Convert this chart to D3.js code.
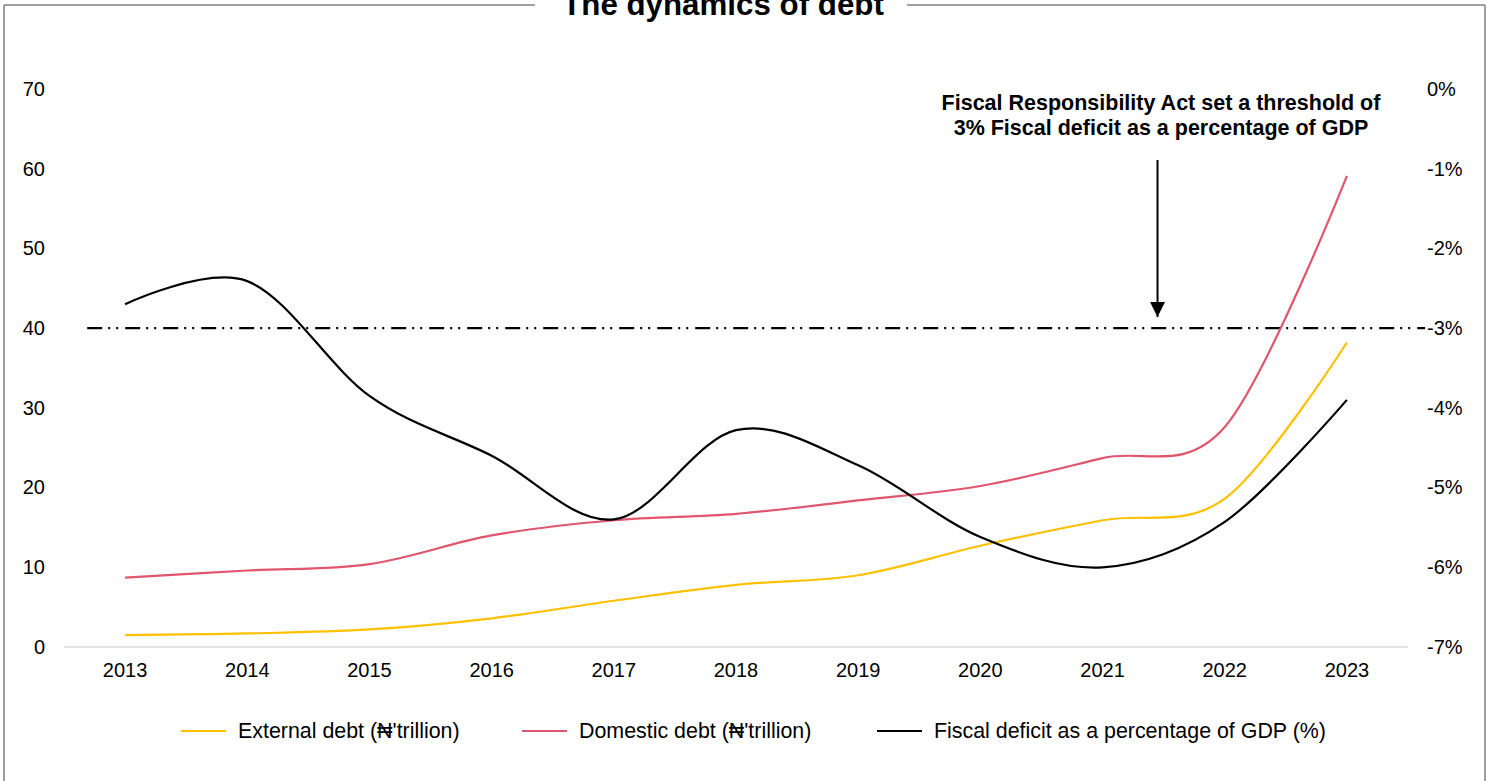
<!DOCTYPE html>
<html>
<head>
<meta charset="utf-8">
<script src="https://cdn.jsdelivr.net/npm/d3@7/dist/d3.min.js"></script>
<style>
  html, body { margin: 0; padding: 0; background: #fff; }
  svg { display: block; font-family: "Liberation Sans", Arial, sans-serif; }
</style>
</head>
<body>
<svg id="chart" width="1494" height="781"></svg>
<script>
const years = ["2013","2014","2015","2016","2017","2018","2019","2020","2021","2022","2023"];
const externalDebt = [1.5, 1.7, 2.2, 3.6, 5.8, 7.8, 9.0, 12.7, 15.9, 18.6, 38.2];
const domesticDebt = [8.7, 9.6, 10.4, 14.0, 15.9, 16.7, 18.4, 20.2, 23.7, 27.6, 59.1];
const fiscalDeficit = [-2.7, -2.41, -3.85, -4.6, -5.4, -4.28, -4.72, -5.62, -6.0, -5.43, -3.9];
const leftTicks = [0, 10, 20, 30, 40, 50, 60, 70];
const rightTicks = [0, -1, -2, -3, -4, -5, -6, -7];
const threshold = -3;
const thresholdSpan = [2012.69, 2023.64];
const arrowAt = { year: 2021.45, from: -0.89, to: -2.86 };
const annotationLines = ["Fiscal Responsibility Act set a threshold of", "3% Fiscal deficit as a percentage of GDP"];
const title = "The dynamics of debt";
const seriesNames = ["External debt (\u20A6'trillion)", "Domestic debt (\u20A6'trillion)", "Fiscal deficit as a percentage of GDP (%)"];
const colors = ["#FFC000", "#E0566E", "#000000"];

const svg = d3.select("#chart");
const W = 1494, H = 781;
const plot = { left: 64, right: 1408, top: 89, bottom: 647 };

const x = d3.scaleBand().domain(years).range([plot.left, plot.right]);
const xc = d => x(d) + x.bandwidth() / 2;
const xYear = d3.scaleLinear().domain([2013, 2023]).range([xc("2013"), xc("2023")]);
const yL = d3.scaleLinear().domain([0, 70]).range([plot.bottom, plot.top]);
const yR = d3.scaleLinear().domain([-7, 0]).range([plot.bottom, plot.top]);

// frame
const frameCol = "#7f7f7f";
svg.append("line").attr("x1", 4).attr("x2", 4).attr("y1", 5).attr("y2", H + 5).attr("stroke", frameCol).attr("stroke-width", 1.5);
svg.append("line").attr("x1", 1485).attr("x2", 1485).attr("y1", 5).attr("y2", H + 5).attr("stroke", frameCol).attr("stroke-width", 1.5);
svg.append("line").attr("x1", 4).attr("x2", 535).attr("y1", 5).attr("y2", 5).attr("stroke", frameCol).attr("stroke-width", 1.5);
svg.append("line").attr("x1", 907).attr("x2", 1485).attr("y1", 5).attr("y2", 5).attr("stroke", frameCol).attr("stroke-width", 1.5);

// title (cut at the top edge, as in the reference)
svg.append("text").attr("x", 723).attr("y", 15).attr("text-anchor", "middle")
  .attr("font-size", 31.3).attr("font-weight", "bold").attr("fill", "#000").text(title);

// baseline
svg.append("line").attr("x1", plot.left).attr("x2", plot.right).attr("y1", yL(0)).attr("y2", yL(0))
  .attr("stroke", "#d9d9d9").attr("stroke-width", 1.5);

// left axis
const axL = d3.axisLeft(yL).tickValues(leftTicks).tickSize(0).tickPadding(0);
const gL = svg.append("g").attr("transform", "translate(45,0)").call(axL);
gL.select(".domain").remove();
gL.selectAll("text").attr("font-size", 20).attr("fill", "#000").attr("font-family", "Liberation Sans, Arial, sans-serif");

// right axis
const axR = d3.axisRight(yR).tickValues(rightTicks).tickSize(0).tickPadding(0).tickFormat(d => d + "%");
const gR = svg.append("g").attr("transform", "translate(1427,0)").call(axR);
gR.select(".domain").remove();
gR.selectAll("text").attr("font-size", 20).attr("fill", "#000").attr("font-family", "Liberation Sans, Arial, sans-serif");

// bottom axis
const axB = d3.axisBottom(x).tickSize(0).tickPadding(0);
const gB = svg.append("g").attr("transform", "translate(0,663)").call(axB);
gB.select(".domain").remove();
gB.selectAll("text").attr("font-size", 20).attr("fill", "#000").attr("font-family", "Liberation Sans, Arial, sans-serif");

// threshold line
svg.append("line")
  .attr("x1", xYear(thresholdSpan[0])).attr("x2", xYear(thresholdSpan[1]))
  .attr("y1", yR(threshold)).attr("y2", yR(threshold))
  .attr("stroke", "#000").attr("stroke-width", 2.2)
  .attr("stroke-dasharray", "15,6,2,6,2,7");

// series
const curve = d3.curveCatmullRom.alpha(0);
const lineL = d3.line().x((d, i) => xc(years[i])).y(d => yL(d)).curve(curve);
const lineR = d3.line().x((d, i) => xc(years[i])).y(d => yR(d)).curve(curve);

svg.append("path").attr("d", lineL(externalDebt)).attr("fill", "none").attr("stroke", colors[0]).attr("stroke-width", 2.2);
svg.append("path").attr("d", lineL(domesticDebt)).attr("fill", "none").attr("stroke", colors[1]).attr("stroke-width", 2.2);
svg.append("path").attr("d", lineR(fiscalDeficit)).attr("fill", "none").attr("stroke", colors[2]).attr("stroke-width", 2.2);

// annotation
const ax = xYear(arrowAt.year);
svg.append("defs").append("marker").attr("id", "arr").attr("viewBox", "0 0 10 10")
  .attr("refX", 10).attr("refY", 5).attr("markerWidth", 7.5).attr("markerHeight", 7.5)
  .attr("markerUnits", "strokeWidth").attr("orient", "auto")
  .append("path").attr("d", "M0,0 L10,5 L0,10 Z").attr("fill", "#000");
svg.append("line").attr("x1", ax).attr("x2", ax).attr("y1", yR(arrowAt.from)).attr("y2", yR(arrowAt.to))
  .attr("stroke", "#000").attr("stroke-width", 2).attr("marker-end", "url(#arr)");
svg.append("g").selectAll("text").data(annotationLines).join("text")
  .attr("x", 1161).attr("y", (d, i) => 110 + i * 25).attr("text-anchor", "middle")
  .attr("font-size", 21.5).attr("font-weight", "bold").attr("fill", "#000").text(d => d);

// legend
const legX = [181, 522, 877];
const leg = svg.append("g").selectAll("g").data(seriesNames).join("g")
  .attr("transform", (d, i) => `translate(${legX[i]},731)`);
leg.append("line").attr("x1", 0).attr("x2", 45).attr("y1", 0).attr("y2", 0)
  .attr("stroke", (d, i) => colors[i]).attr("stroke-width", 2.2);
leg.append("text").attr("x", 57).attr("y", 7).attr("font-size", 21.4).attr("fill", "#000").text(d => d);
</script>
</body>
</html>
